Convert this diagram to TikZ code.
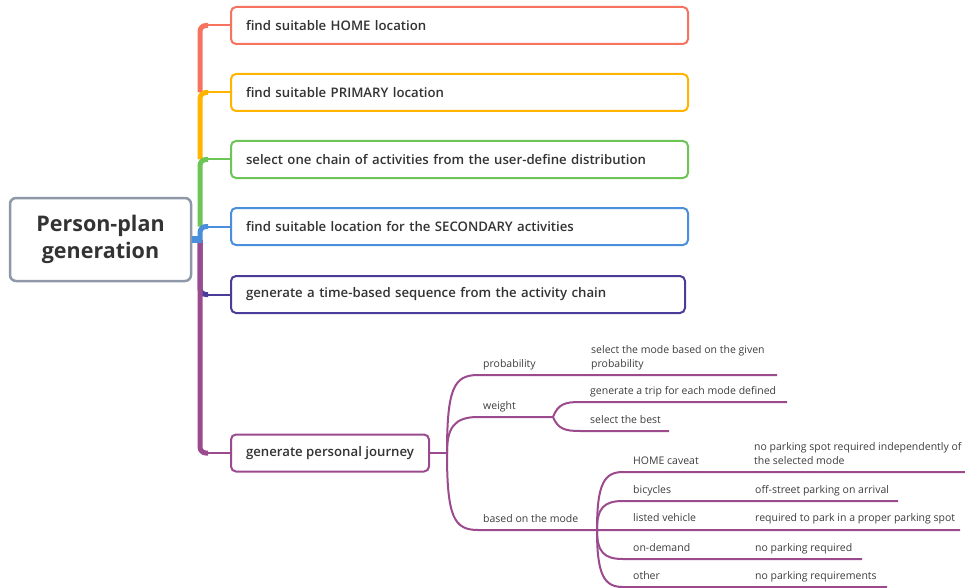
\documentclass[tikz,border=0pt]{standalone}
\usepackage{fontspec}
\setmainfont{Open Sans}
\IfFontExistsTF{Open Sans SemiBold}{\newfontfamily\semib{Open Sans SemiBold}}{\IfFontExistsTF{Open Sans Semibold}{\newfontfamily\semib{Open Sans Semibold}}{\newfontfamily\semib{Open Sans}[FakeBold=1.2]}}
\definecolor{cred}{HTML}{F5735F}
\definecolor{corange}{HTML}{FFB400}
\definecolor{cgreen}{HTML}{6DC558}
\definecolor{cblue}{HTML}{4A8FDC}
\definecolor{cindigo}{HTML}{4A3C99}
\definecolor{cpur}{HTML}{9B4A8E}
\definecolor{rootc}{HTML}{8E98A8}
\definecolor{txt}{HTML}{333333}
\definecolor{txtb}{HTML}{3C3C3C}
\tikzset{
 box/.style={draw, line width=2pt, rounded corners=5pt, fill=white, anchor=west, minimum height=37pt, inner xsep=15pt, inner ysep=0pt, align=left, font=\semib\fontsize{13.2}{15}\selectfont, text=txt},
 trunk/.style={line width=5pt, rounded corners=6pt},
 twig/.style={line width=2pt},
 sub/.style={draw=cpur, line width=2pt},
 lab/.style={anchor=base west, inner sep=0pt, font=\fontsize{10.5}{14}\selectfont, text=txtb, align=left},
}
\begin{document}
\begin{tikzpicture}[x=1pt,y=-1pt]
\useasboundingbox (0,0) rectangle (965,588);
% root
\node[draw=rootc, line width=2.5pt, rounded corners=6pt, minimum width=181pt, minimum height=83pt, align=center, text=txt, font=\bfseries\fontsize{21.5}{27}\selectfont] (root) at (100.5,239.5) {Person-plan\\generation};
\coordinate (tk) at (200,239.5);
% level-1 boxes
\node[box, draw=cred, text width=427pt] (b1) at (230,25.5) {find suitable HOME location};
\node[box, draw=corange, text width=427pt] (b2) at (230,92.5) {find suitable PRIMARY location};
\node[box, draw=cgreen, text width=427pt] (b3) at (230,159.5) {select one chain of activities from the user-define distribution};
\node[box, draw=cblue, text width=427pt] (b4) at (230,226.5) {find suitable location for the SECONDARY activities};
\node[box, draw=cindigo, text width=424pt] (b5) at (230,294.5) {generate a time-based sequence from the activity chain};
\node[box, draw=cpur] (b6) at (230,453) {generate personal journey};
% trunk
\draw[trunk, cindigo] (tk) -- (tk |- b5.west) -- ++(8,0);
\draw[twig, cindigo] ([xshift=6pt]tk |- b5.west) -- (b5.west);
\draw[trunk, cpur] (tk) -- (tk |- b6.west) -- ++(8,0);
\draw[twig, cpur] ([xshift=6pt]tk |- b6.west) -- (b6.west);
\draw[trunk, cred] (tk |- b2.west) -- (tk |- b1.west) -- ++(8,0);
\draw[twig, cred] ([xshift=6pt]tk |- b1.west) -- (b1.west);
\draw[trunk, corange] (tk |- b3.west) -- (tk |- b2.west) -- ++(8,0);
\draw[twig, corange] ([xshift=6pt]tk |- b2.west) -- (b2.west);
\draw[trunk, cgreen] (tk |- b4.west) -- (tk |- b3.west) -- ++(8,0);
\draw[twig, cgreen] ([xshift=6pt]tk |- b3.west) -- (b3.west);
\draw[trunk, cblue] (tk) -- (tk |- b4.west) -- ++(8,0);
\draw[twig, cblue] ([xshift=6pt]tk |- b4.west) -- (b4.west);
\draw[cblue, line width=7pt] (root.east) -- ([xshift=2pt]tk);
% journey subtree
\coordinate (j0) at (447,453);
\draw[sub] (b6.east) -- (j0);
% labels
\node[lab] (prob) at (483,367) {probability};
\node[lab] (probc) at (591,367) {select the mode based on the given\\probability};
\node[lab] (wgt) at (483,409) {weight};
\node[lab] (wgt1) at (590,394) {generate a trip for each mode defined};
\node[lab] (wgt2) at (590,423) {select the best};
\node[lab] (mode) at (483,522) {based on the mode};
\node[lab] (m1) at (633,464) {HOME caveat};
\node[lab] (m1c) at (754,464) {no parking spot required independently of\\the selected mode};
\node[lab] (m2) at (633,493) {bicycles};
\node[lab] (m2c) at (755,493) {off-street parking on arrival};
\node[lab] (m3) at (633,521) {listed vehicle};
\node[lab] (m3c) at (755,521) {required to park in a proper parking spot};
\node[lab] (m4) at (633,551) {on-demand};
\node[lab] (m4c) at (755,551) {no parking required};
\node[lab] (m5) at (633,579) {other};
\node[lab] (m5c) at (755,579) {no parking requirements};
% underline coordinates
\coordinate (pA) at (478,375); \coordinate (pB) at (777,375);
\coordinate (wA) at (478,417); \coordinate (wJ) at (553,417);
\coordinate (w1A) at (580,402); \coordinate (w1B) at (787,402);
\coordinate (w2A) at (580,431); \coordinate (w2B) at (669,431);
\coordinate (mA) at (478,530); \coordinate (mJ) at (597,530);
\coordinate (m1A) at (623,472); \coordinate (m1B) at (965,472);
\coordinate (m2A) at (623,501); \coordinate (m2B) at (898,501);
\coordinate (m3B) at (960,530);
\coordinate (m4A) at (623,559); \coordinate (m4B) at (862,559);
\coordinate (m5A) at (623,587); \coordinate (m5B) at (887,587);
\draw[sub] (j0) .. controls (447,388) and (454,375) .. (pA) -- (pB);
\draw[sub] (j0) .. controls (447,428) and (454,417) .. (wA) -- (wJ);
\draw[sub] (j0) .. controls (447,517) and (454,530) .. (mA) -- (mJ) -- (m3B);
\draw[sub] (wJ) .. controls (558,404) and (565,402) .. (w1A) -- (w1B);
\draw[sub] (wJ) .. controls (558,429) and (565,431) .. (w2A) -- (w2B);
\draw[sub] (mJ) .. controls (597,484) and (604,472) .. (m1A) -- (m1B);
\draw[sub] (mJ) .. controls (597,508) and (604,501) .. (m2A) -- (m2B);
\draw[sub] (mJ) .. controls (597,552) and (604,559) .. (m4A) -- (m4B);
\draw[sub] (mJ) .. controls (597,575) and (604,587) .. (m5A) -- (m5B);
\end{tikzpicture}
\end{document}
